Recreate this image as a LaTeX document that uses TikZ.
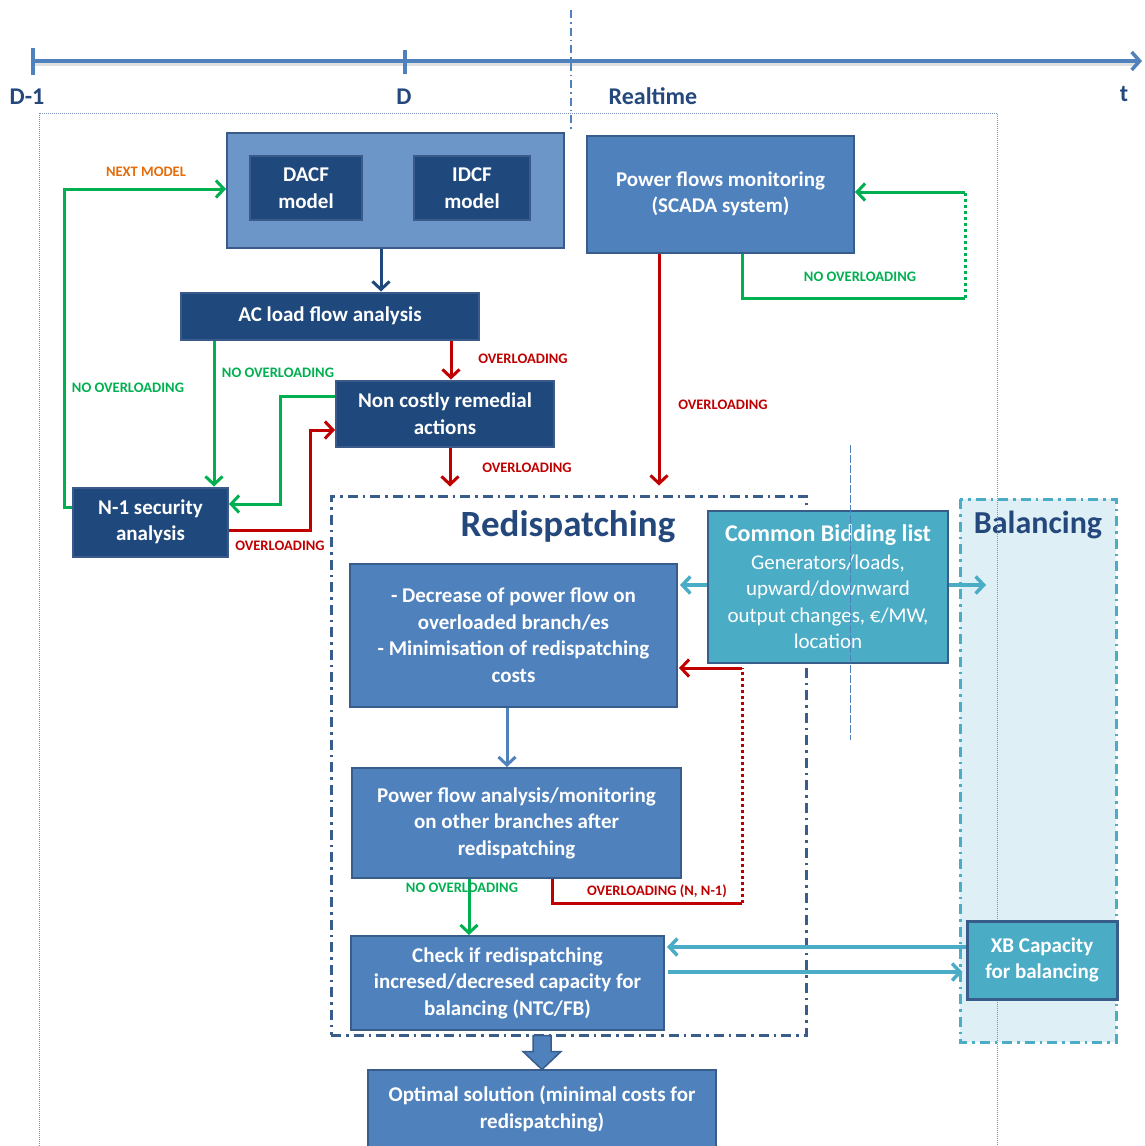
\documentclass[tikz,border=0pt]{standalone}
\usepackage{fontspec}
\setmainfont{Carlito}
\usetikzlibrary{arrows.meta,calc}

\definecolor{navy}{RGB}{31,73,125}
\definecolor{navyedge}{RGB}{58,90,138}
\definecolor{midblue}{RGB}{79,129,189}
\definecolor{midedge}{RGB}{56,93,138}
\definecolor{paleblue}{RGB}{108,150,200}
\definecolor{cyanbox}{RGB}{75,172,198}
\definecolor{okgreen}{RGB}{0,176,80}
\definecolor{badred}{RGB}{192,0,0}
\definecolor{nextorange}{RGB}{228,108,10}
\definecolor{titleblue}{RGB}{36,72,124}
\definecolor{balfill}{RGB}{222,239,246}
\definecolor{frame}{RGB}{120,145,185}

\newcommand\boxtext{\fontsize{21}{26.5}\selectfont\bfseries}
\newcommand\tagtext{\fontsize{14.5}{16}\selectfont\bfseries}

\tikzset{
  box/.style={draw, line width=2pt, text=white, font=\boxtext, align=center, inner sep=0pt},
  darkbox/.style={box, fill=navy, draw=navyedge},
  medbox/.style={box, fill=midblue, draw=midedge},
  cyanbx/.style={box, fill=cyanbox, draw=midedge, line width=2.5pt},
  sz/.style 2 args={minimum width=#1pt, minimum height=#2pt},
  tip/.style={-{Straight Barb[length=8pt,width=17pt]}},
  goodline/.style={draw=okgreen, line width=3pt},
  badline/.style={draw=badred, line width=3pt},
  goodtag/.style={text=okgreen, font=\tagtext, inner sep=0pt},
  badtag/.style={text=badred, font=\tagtext, inner sep=0pt},
  cyanarrow/.style={draw=cyanbox, line width=3.5pt, tip},
  axislabel/.style={text=titleblue, font=\fontsize{24}{26}\selectfont\bfseries, inner sep=0pt},
}

\begin{document}
\begin{tikzpicture}[x=1pt,y=-1pt]
\useasboundingbox (0,0) rectangle (1144,1146);

% balancing area
\draw[fill=balfill, draw=cyanbox, line width=3pt,
      dash pattern=on 10pt off 5pt on 2.5pt off 5pt] (960,499) rectangle (1116,1042);
\node[text=titleblue, font=\fontsize{32}{34}\selectfont\bfseries, inner sep=0pt] (baltitle) at (1038,525) {Balancing};

% outer frame of the process
\draw[frame, line width=1pt, dash pattern=on 1pt off 1pt] (39,113) rectangle (997,1160);

% time axis
\coordinate (t0) at (33,61);
\coordinate (t1) at (1142,61);
\draw[black!35, line width=3.5pt, opacity=.35] ($(t0)+(1,3)$) -- ($(t1)+(-3,3)$);
\draw[midblue, line width=3.5pt, -{Straight Barb[length=8pt,width=18pt]}] (t0) -- (t1);
\draw[midblue, line width=3.5pt] ($(t0)+(0,-13)$) -- ($(t0)+(0,14)$);
\coordinate (tD) at (405,61);
\draw[midblue, line width=3.5pt] ($(tD)+(0,-11)$) -- ($(tD)+(0,13)$);
\node[axislabel] (lblDm1) at (27,97) {D-1};
\node[axislabel] (lblD) at (404,97) {D};
\node[axislabel] (lblRT) at (653,96) {Realtime};
\node[axislabel] (lblt) at (1124,94) {t};
\draw[midblue, line width=1.3pt, dash pattern=on 8pt off 4pt on 1.5pt off 4pt] (571,10) -- (571,130);

% model preparation
\node[box, fill=paleblue, draw=navyedge, sz={337}{115}] (model) at (395.5,190.5) {};
\node[darkbox, sz={112}{64}] (dacf) at (306,188) {DACF\\model};
\node[darkbox, sz={116}{64}] (idcf) at (472,188) {IDCF\\model};
\node[medbox, sz={267}{117}] (scada) at (720.5,194) {Power flows monitoring\\(SCADA system)};
\node[darkbox, sz={298}{47}] (acflow) at (330,316) {AC load flow analysis};
\node[darkbox, sz={218}{66}] (noncostly) at (445,413.5) {Non costly remedial\\actions};
\node[darkbox, sz={155}{69}] (nsec) at (150.5,522) {N-1 security\\analysis};

% redispatching block
\node[draw=midedge, line width=3pt, dash pattern=on 10pt off 5pt on 2.5pt off 5pt,
      minimum width=475pt, minimum height=539pt, inner sep=0pt] (redisp) at (568.5,765.5) {};
\node[text=titleblue, font=\fontsize{37}{40}\selectfont\bfseries, inner sep=0pt] (redtitle) at (568,527) {Redispatching};
\node[medbox, sz={327}{143}] (decrease) at (513.5,635)
  {- Decrease of power flow on\\overloaded branch/es\\- Minimisation of redispatching\\costs};
\node[cyanbx, sz={240}{152}, font=\fontsize{21}{26.5}\selectfont] (cbl) at (828,587)
  {{\fontsize{24}{28}\selectfont\bfseries Common Bidding list}\\[1pt]Generators/loads,\\upward/downward\\output changes, €/MW,\\location};
\node[medbox, sz={329}{110}] (pfa) at (516.5,823)
  {Power flow analysis/monitoring\\on other branches after\\redispatching};
\node[medbox, sz={313}{94}] (check) at (507.5,983)
  {Check if redispatching\\incresed/decresed capacity for\\balancing (NTC/FB)};
\node[medbox, sz={348}{79}] (optimal) at (542,1109)
  {Optimal solution (minimal costs for\\redispatching)};
\node[cyanbx, sz={150}{78}, line width=3pt] (xb) at (1042,960) {XB Capacity\\for balancing};

% day-ahead / intraday loop
\draw[draw=navy, line width=3pt, tip] (model.south -| 381,0) -- (acflow.north -| 381,0);
\draw[goodline, tip] (nsec.west |- 0,507) -| (64,189) -- (model.west |- 0,189);
\node[text=nextorange, font=\tagtext, inner sep=0pt] (lblnext) at (146,172) {NEXT MODEL};
\node[goodtag] (lblnoov1) at (128,388) {NO OVERLOADING};
\draw[goodline, tip] (acflow.south -| 214,0) -- (nsec.north -| 214,0);
\node[goodtag] (lblnoov2) at (278,373) {NO OVERLOADING};
\draw[badline, tip] (acflow.south -| 451,0) -- (noncostly.north -| 451,0);
\node[badtag] (lblov1) at (523,359) {OVERLOADING};
\draw[goodline, tip] (noncostly.west |- 0,396) -| (280,504) -- (nsec.east |- 0,504);
\draw[badline, tip] (nsec.east |- 0,530) -| (310,430) -- (noncostly.west |- 0,430);
\node[badtag] (lblov2) at (280,546) {OVERLOADING};
\draw[badline, tip, shorten >=8pt] (noncostly.south -| 450,0) -- (redisp.north -| 450,0);
\node[badtag] (lblov3) at (527,468) {OVERLOADING};

% real-time monitoring loop
\draw[badline, tip, shorten >=9pt] (scada.south -| 659,0) -- (redisp.north -| 659,0);
\node[badtag] (lblov4) at (723,405) {OVERLOADING};
\coordinate (loopbot) at (965,298);
\coordinate (looptop) at (965,192);
\draw[goodline] (scada.south -| 742,0) |- (loopbot);
\draw[goodline, dash pattern=on 3pt off 3pt] (loopbot) -- (looptop);
\draw[goodline, tip] (looptop) -- (scada.east |- looptop);
\node[goodtag] (lblnoov3) at (860,277) {NO OVERLOADING};

% bidding list exchanges
\draw[cyanarrow] (cbl.west |- 0,585) -- ([xshift=2pt]decrease.east |- 0,585);
\coordinate (balin) at (986,585);
\draw[cyanarrow] (cbl.east |- 0,585) -- (balin);

% redispatching chain
\draw[draw=midblue, line width=3pt, tip] (decrease.south -| 507,0) -- (pfa.north -| 507,0);
\draw[goodline, tip] (pfa.south -| 469,0) -- (check.north -| 469,0);
\node[goodtag] (lblnoov4) at (462,888) {NO OVERLOADING};
\coordinate (rloopbot) at (742,903);
\coordinate (rlooptop) at (742,668);
\draw[badline] (pfa.south -| 552,0) |- (rloopbot);
\draw[badline, dash pattern=on 3pt off 3pt] (rloopbot) -- (rlooptop);
\draw[badline, tip] (rlooptop) -- ([xshift=1pt]decrease.east |- rlooptop);
\node[badtag] (lblov5) at (657,891) {OVERLOADING (N, N-1)};

% cross-border capacity exchange
\draw[cyanarrow] (xb.west |- 0,947) -- ([xshift=2pt]check.east |- 0,947);
\draw[cyanarrow] ([xshift=3pt]check.east |- 0,972) -- ([xshift=-3pt]xb.west |- 0,972);

% block arrow to the result
\draw[fill=midblue, draw=midedge, line width=1.5pt]
  ($(optimal.north)+(-9,-33)$) -- ++(18,0) -- ++(0,16) -- ++(10,0)
  -- ($(optimal.north)+(0,1)$) -- ($(optimal.north)+(-19,-17)$) -- ++(10,0) -- cycle;

% guide line
\draw[midblue, line width=0.9pt, dash pattern=on 8pt off 2pt] (850,445) -- (850,740);
\end{tikzpicture}
\end{document}
